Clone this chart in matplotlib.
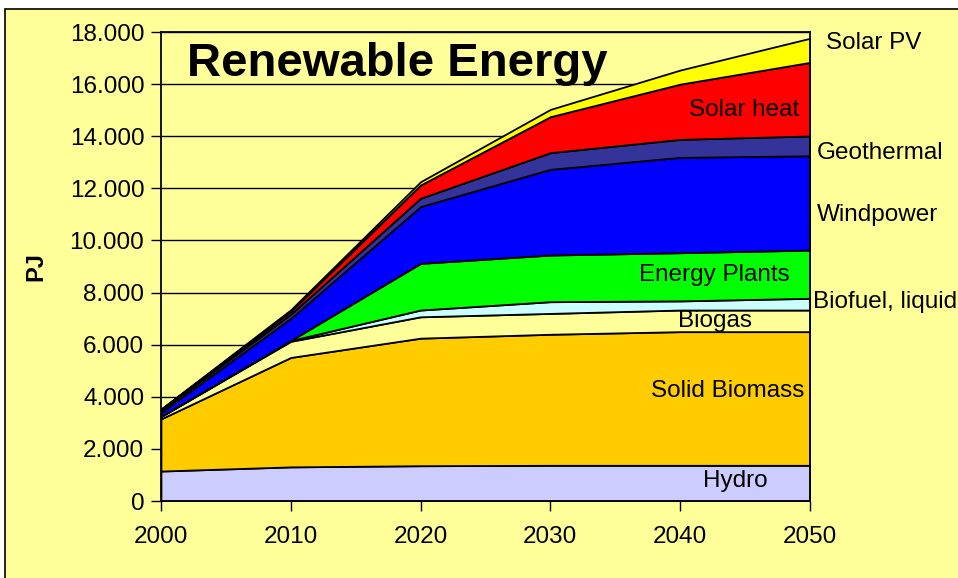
import matplotlib.pyplot as plt
from matplotlib.patches import Rectangle
from matplotlib.ticker import FuncFormatter

plt.rcParams['font.family'] = ['Liberation Sans', 'DejaVu Sans']

years = [2000, 2010, 2020, 2030, 2040, 2050]
names = ["Hydro", "Solid Biomass", "Biogas", "Biofuel, liquid", "Energy Plants",
         "Windpower", "Geothermal", "Solar heat", "Solar PV"]
hydro = [1150, 1310, 1355, 1370, 1370, 1370]
solid_biomass = [2000, 4200, 4895, 5030, 5130, 5130]
biogas = [90, 620, 820, 800, 830, 830]
biofuel = [10, 30, 260, 450, 350, 450]
energy_plants = [0, 0, 1790, 1790, 1850, 1850]
windpower = [150, 850, 2180, 3290, 3660, 3620]
geothermal = [80, 160, 320, 640, 690, 760]
solar_heat = [40, 110, 510, 1380, 2120, 2825]
solar_pv = [10, 60, 125, 280, 540, 925]
colors = ["#CCCCFF", "#FFCC00", "#FFFF99", "#CCFFFF", "#00FF00",
          "#0000FF", "#333399", "#FF0000", "#FFFF00"]

bg = "#FFFF99"


def main():
    fig = plt.figure(figsize=(9.58, 5.78), dpi=100, facecolor="white")
    fig.patches.append(Rectangle((0.005, -0.1), 1.2, 1.0844, transform=fig.transFigure,
                                 facecolor=bg, edgecolor="black", linewidth=1.2, zorder=-10))
    ax = fig.add_axes([0.168, 0.1332, 0.6775, 0.8114])
    ax.set_facecolor(bg)

    series = [hydro, solid_biomass, biogas, biofuel, energy_plants,
              windpower, geothermal, solar_heat, solar_pv]
    ax.stackplot(years, *series, colors=colors, edgecolor="black", linewidth=1.3, zorder=3)

    ax.set_xlim(2000, 2050)
    ax.set_ylim(0, 18000)
    ax.set_xticks(years)
    ax.set_yticks(range(0, 18001, 2000))
    ax.yaxis.set_major_formatter(FuncFormatter(lambda v, p: f"{int(v):,}".replace(",", ".")))
    ax.tick_params(axis="both", direction="out", length=7, width=1, labelsize=17.5, pad=5)
    ax.tick_params(axis="x", pad=11)
    ax.grid(axis="y", color="black", linewidth=1, zorder=0)
    ax.set_axisbelow(True)
    for s in ax.spines.values():
        s.set_linewidth(1.3)
        s.set_zorder(4)

    ax.set_ylabel("PJ", fontsize=17, fontweight="bold", labelpad=16)

    ax.text(2002.0, 16311, "Renewable Energy", fontsize=34, fontweight="bold",
            ha="left", va="baseline")

    fs = 17.5
    ax.text(2051.25, 17580, "Solar PV", fontsize=fs, va="center", clip_on=False)
    ax.text(2050.5, 13356, "Geothermal", fontsize=fs, va="center", clip_on=False)
    ax.text(2050.5, 10977, "Windpower", fontsize=fs, va="center", clip_on=False)
    ax.text(2050.2, 7638, "Biofuel, liquid", fontsize=fs, va="center", clip_on=False)
    ax.text(2049.15, 15007, "Solar heat", fontsize=fs, va="center", ha="right", zorder=5)
    ax.text(2048.46, 8674, "Energy Plants", fontsize=fs, va="center", ha="right", zorder=5)
    ax.text(2042.68, 6908, "Biogas", fontsize=fs, va="center", ha="center", zorder=5)
    ax.text(2049.54, 4222, "Solid Biomass", fontsize=fs, va="center", ha="right", zorder=5)
    ax.text(2046.7, 768, "Hydro", fontsize=fs, va="center", ha="right", zorder=5)

    fig.savefig("out.png", dpi=100, facecolor="white")


if __name__ == "__main__":
    main()
